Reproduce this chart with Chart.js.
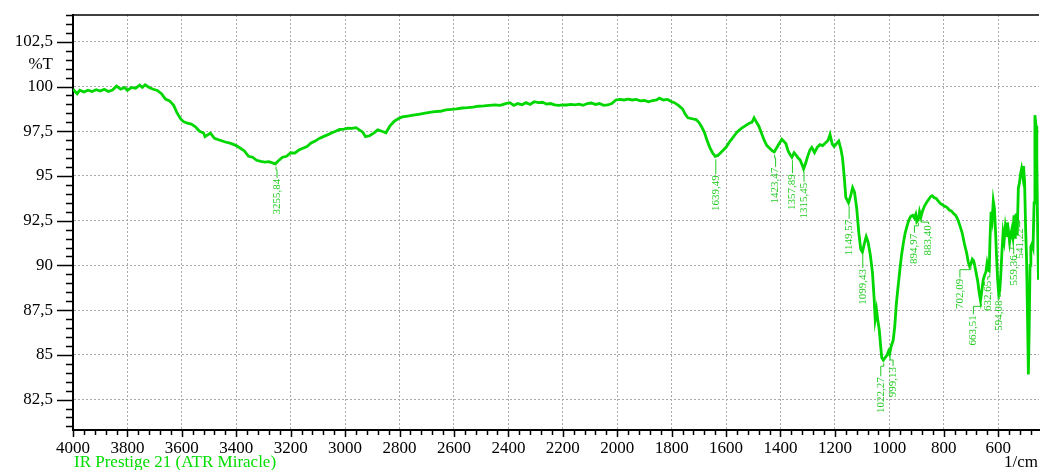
<!DOCTYPE html>
<html>
<head>
<meta charset="utf-8">
<script src="https://cdn.jsdelivr.net/npm/chart.js@4.4.0/dist/chart.umd.min.js"></script>
<style>
  html, body { margin: 0; padding: 0; background: #fff; }
  canvas { display: block; }
</style>
</head>
<body>
<canvas id="irChart" width="1040" height="470"></canvas>
<script>
// spectrum (1/cm, %T)
var wavenumbers = [
    4000, 3985, 3975, 3960, 3945, 3930, 3915, 3900, 3885, 3870, 3855, 3840, 3825, 3810, 3800,
    3785, 3770, 3755, 3745, 3735, 3720, 3705, 3690, 3675, 3660, 3645, 3630, 3620, 3605, 3595,
    3580, 3565, 3550, 3535, 3520, 3515, 3495, 3480, 3460, 3440, 3420, 3400, 3385, 3370, 3355,
    3340, 3325, 3310, 3295, 3280, 3265, 3256, 3245, 3230, 3215, 3200, 3185, 3170, 3155, 3140,
    3125, 3110, 3095, 3080, 3065, 3050, 3035, 3020, 3005, 2990, 2975, 2960, 2945, 2935, 2925,
    2910, 2895, 2880, 2865, 2850, 2835, 2820, 2805, 2790, 2770, 2750, 2730, 2710, 2690, 2670,
    2650, 2630, 2610, 2590, 2570, 2550, 2530, 2510, 2490, 2470, 2450, 2430, 2410, 2395, 2380,
    2365, 2350, 2335, 2320, 2305, 2290, 2275, 2260, 2245, 2230, 2215, 2200, 2185, 2170, 2155,
    2140, 2125, 2110, 2095, 2080, 2065, 2050, 2035, 2020, 2005, 1990, 1975, 1960, 1945, 1930,
    1915, 1900, 1885, 1870, 1855, 1845, 1830, 1815, 1800, 1790, 1775, 1760, 1750, 1740, 1725,
    1710, 1700, 1690, 1680, 1670, 1660, 1650, 1640, 1630, 1620, 1610, 1600, 1590, 1580, 1570,
    1560, 1545, 1530, 1515, 1505, 1497, 1488, 1480, 1470, 1460, 1450, 1440, 1430, 1423, 1415,
    1405, 1395, 1388, 1380, 1372, 1365, 1358, 1350, 1342, 1335, 1328, 1320, 1315, 1308, 1300,
    1292, 1285, 1275, 1265, 1255, 1245, 1235, 1225, 1218, 1210, 1203, 1195, 1186, 1178, 1172,
    1166, 1160, 1150, 1142, 1135, 1128, 1120, 1112, 1105, 1099, 1092, 1085, 1078, 1070, 1062,
    1056, 1052, 1047, 1043, 1037, 1032, 1028, 1022, 1015, 1008, 1003, 999, 993, 986, 980,
    974, 968, 961, 955, 948, 942, 935, 928, 921, 914, 908, 903, 899, 894, 889,
    884, 878, 870, 862, 855, 848, 842, 836, 828, 820, 812, 805, 796, 788, 780,
    772, 764, 756, 748, 740, 732, 724, 716, 710, 705, 700, 695, 690, 685, 680,
    675, 670, 665, 660, 655, 650, 645, 641, 637, 633, 630, 626, 622, 618, 614,
    610, 606, 602, 598, 594, 590, 586, 582, 578, 574, 570, 566, 562, 558, 554,
    550, 546, 542, 538, 534, 530, 526, 522, 518, 514, 510, 507, 503, 499, 496,
    492, 489, 486, 483, 480, 476, 472, 468, 465, 461, 458, 455, 452
];
var transmittance = [
    99.85, 99.6, 99.8, 99.7, 99.8, 99.72, 99.82, 99.75, 99.85, 99.72, 99.8, 100.02, 99.85, 99.95, 99.78,
    99.95, 99.9, 100.08, 99.95, 100.1, 99.95, 99.85, 99.78, 99.6, 99.3, 99.2, 98.95, 98.6, 98.2, 98.05,
    97.95, 97.9, 97.75, 97.5, 97.4, 97.2, 97.4, 97.1, 97.0, 96.9, 96.82, 96.7, 96.55, 96.4, 96.1,
    96.05, 95.88, 95.82, 95.78, 95.8, 95.72, 95.68, 95.85, 96.05, 96.1, 96.3, 96.28, 96.45, 96.55, 96.65,
    96.85, 96.95, 97.1, 97.2, 97.3, 97.4, 97.5, 97.6, 97.62, 97.68, 97.66, 97.7, 97.55, 97.45, 97.2,
    97.25, 97.4, 97.58, 97.5, 97.42, 97.8, 98.05, 98.2, 98.3, 98.35, 98.4, 98.45, 98.5, 98.55, 98.6,
    98.62, 98.7, 98.72, 98.75, 98.8, 98.82, 98.85, 98.9, 98.92, 98.95, 98.98, 98.95, 99.05, 99.1, 98.95,
    99.05, 98.98, 99.1, 99.0, 99.15, 99.1, 99.12, 99.02, 99.05, 98.98, 98.95, 98.98, 98.97, 99.0, 98.98,
    99.02, 98.95, 99.05, 99.08, 99.0, 99.05, 98.95, 98.97, 99.05, 99.25, 99.28, 99.25, 99.3, 99.25, 99.28,
    99.2, 99.22, 99.15, 99.22, 99.25, 99.35, 99.25, 99.28, 99.15, 99.1, 98.95, 98.75, 98.45, 98.25, 98.2,
    98.15, 98.0, 97.75, 97.45, 97.0, 96.6, 96.3, 96.1, 96.15, 96.3, 96.45, 96.6, 96.85, 97.05, 97.25,
    97.45, 97.65, 97.8, 97.95, 98.0, 98.25, 98.0, 97.8, 97.4, 97.0, 96.7, 96.55, 96.4, 96.35, 96.55,
    96.8, 97.05, 96.95, 96.8, 96.4, 96.2, 96.05, 96.3, 96.15, 96.0, 95.9, 95.6, 95.4, 95.7, 96.1,
    96.45, 96.6, 96.3, 96.6, 96.75, 96.7, 96.85, 97.0, 97.32, 96.8, 96.65, 96.8, 96.95, 96.5, 96.0,
    95.0, 93.8, 93.5, 93.9, 94.35, 94.1, 93.2, 91.8, 90.9, 90.75, 91.2, 91.6, 91.3, 90.6, 89.6,
    88.2, 87.0, 87.5, 87.0, 86.4, 85.5, 84.85, 84.7, 84.85, 85.0, 85.2, 85.05, 85.5, 85.8, 86.6,
    87.9, 88.8, 89.8, 90.6, 91.3, 91.8, 92.2, 92.55, 92.75, 92.8, 92.65, 92.85, 92.45, 92.55, 93.0,
    92.7, 93.05, 93.35, 93.55, 93.7, 93.85, 93.9, 93.8, 93.75, 93.6, 93.45, 93.4, 93.3, 93.25, 93.1,
    93.05, 92.9, 92.8, 92.55, 92.2, 91.8, 91.2, 90.7, 90.2, 89.95, 90.1, 90.35, 90.25, 89.9, 89.5,
    89.1, 88.5, 88.05, 88.6, 89.2, 89.45, 89.65, 90.1, 89.75, 89.7, 91.5, 93.0, 92.6, 93.6, 93.2,
    92.0, 90.5, 89.2, 88.4, 88.6, 89.6, 90.8, 91.8, 91.4, 92.1, 91.6, 92.4, 91.9, 91.3, 91.7,
    92.0, 91.6, 92.8, 91.5, 92.9, 91.7, 94.3, 94.6, 95.1, 95.4, 95.0, 95.55, 94.7, 92.0, 90.5,
    87.0, 83.9, 86.5, 90.0, 91.05, 91.2, 91.0, 93.5, 98.4, 97.8, 96.0, 92.0, 89.2
];

// axis ticks
var xTicks = [4000, 3800, 3600, 3400, 3200, 3000, 2800, 2600, 2400, 2200, 2000, 1800, 1600, 1400, 1200, 1000, 800, 600];
var yTicks = [82.5, 85, 87.5, 90, 92.5, 95, 97.5, 100, 102.5];

// peak picks
var peakWavenumbers = [3255.84, 1639.49, 1423.47, 1357.89, 1315.45, 1149.57, 1099.43, 1022.27, 999.13,
    894.97, 883.40, 702.09, 663.51, 632.65, 594.08, 559.36, 541.22];
var peakLabels = ['3255,84', '1639,49', '1423,47', '1357,89', '1315,45', '1149,57', '1099,43', '1022,27', '999,13',
    '894,97', '883,40', '702,09', '663,51', '632,65', '594,08', '559,36', '541,22'];

// label placement (pixels, relative to the picked point)
var labelShiftX = [1, 0, 1, 0, 0, 0, 0, -3, 3, -4, 7, -11, -8, -2, -1, 4, 5];
var labelDrop = [15, 19, 16, 17, 14, 17, 17, 17, 13, 14, 8, 15, 15, 10, 10, 13, 13];

var green = '#00d600';
var labelGreen = '#22cc22';
var serif = '"Liberation Serif", "Times New Roman", serif';

function nearestIndex(w) {
    var best = 0;
    for (var i = 1; i < wavenumbers.length; i++) {
        if (Math.abs(wavenumbers[i] - w) < Math.abs(wavenumbers[best] - w)) best = i;
    }
    return best;
}

var extras = {
    id: 'extras',
    afterDraw: function (chart) {
        var c = chart.ctx;
        var xs = chart.scales.x;
        var ys = chart.scales.y;
        var area = chart.chartArea;
        c.save();

        // top frame line
        c.strokeStyle = '#000';
        c.lineWidth = 1.3;
        c.beginPath();
        c.moveTo(area.left, area.top);
        c.lineTo(area.right, area.top);
        c.stroke();

        // tick marks on the y axis
        c.lineWidth = 1.5;
        for (var v = 81; v <= 104.01; v += 0.5) {
            var py = Math.round(ys.getPixelForValue(v)) + 0.5;
            var major = Math.abs(v / 2.5 - Math.round(v / 2.5)) < 1e-6;
            c.beginPath();
            c.moveTo(area.left - (major ? 16 : 7), py);
            c.lineTo(area.left, py);
            c.stroke();
        }
        // tick marks on the x axis
        for (var w = 4000; w >= 450; w -= 40) {
            var px = Math.round(xs.getPixelForValue(w)) + 0.5;
            var maj = w % 200 === 0;
            c.beginPath();
            c.moveTo(px, area.bottom);
            c.lineTo(px, area.bottom + (maj ? 7 : 5));
            c.stroke();
        }

        // axis captions
        c.fillStyle = '#000';
        c.font = '17px ' + serif;
        c.textAlign = 'right';
        c.textBaseline = 'middle';
        c.fillText('%T', 53, ys.getPixelForValue(101.25));
        c.textBaseline = 'alphabetic';
        c.fillText('1/cm', 1038, 467);
        c.textAlign = 'left';
        c.fillStyle = '#00dd00';
        c.fillText('IR Prestige 21 (ATR Miracle)', 74, 467);

        // peak labels
        c.strokeStyle = labelGreen;
        c.fillStyle = labelGreen;
        c.lineWidth = 1;
        c.font = '11px ' + serif;
        for (var k = 0; k < peakWavenumbers.length; k++) {
            var idx = nearestIndex(peakWavenumbers[k]);
            var x0 = xs.getPixelForValue(peakWavenumbers[k]);
            var y0 = ys.getPixelForValue(transmittance[idx]);
            var cx = x0 + labelShiftX[k];
            var top = y0 + labelDrop[k];
            var bend = y0 + Math.min(6, labelDrop[k] - 3);
            c.beginPath();
            c.moveTo(x0 + 0.5, y0 + 3);
            c.lineTo(x0 + 0.5, bend);
            c.lineTo(cx + 0.5, bend);
            c.lineTo(cx + 0.5, top - 1);
            c.stroke();
            c.save();
            c.translate(cx + 0.5, top);
            c.rotate(-Math.PI / 2);
            c.textAlign = 'right';
            c.textBaseline = 'middle';
            c.fillText(peakLabels[k], 0, 0);
            c.restore();
        }
        c.restore();
    }
};

var ctx = document.getElementById('irChart').getContext('2d');
var irChart = new Chart(ctx, {
    type: 'line',
    data: {
        datasets: [{
            data: wavenumbers.map(function (w, i) { return { x: w, y: transmittance[i] }; }),
            borderColor: green,
            borderWidth: 2.8,
            pointRadius: 0,
            tension: 0,
            fill: false
        }]
    },
    options: {
        responsive: false,
        animation: false,
        layout: { padding: { top: 15, right: 1, left: 0, bottom: 0 } },
        plugins: {
            legend: { display: false },
            tooltip: { enabled: false }
        },
        scales: {
            x: {
                type: 'linear',
                reverse: true,
                min: 450,
                max: 4000,
                afterBuildTicks: function (scale) {
                    scale.ticks = xTicks.map(function (v) { return { value: v }; });
                },
                afterFit: function (scale) {
                    scale.height = 40;
                    scale.paddingLeft = 0;
                    scale.paddingRight = 0;
                },
                grid: { color: '#a8a8a8', lineWidth: 1, drawTicks: false },
                border: { display: true, color: '#000', width: 2, dash: [2, 2] },
                ticks: {
                    color: '#000',
                    font: { family: serif, size: 17 },
                    padding: 8,
                    maxRotation: 0,
                    autoSkip: false,
                    callback: function (v) { return String(v); }
                }
            },
            y: {
                min: 80.8,
                max: 104.0,
                afterBuildTicks: function (scale) {
                    scale.ticks = yTicks.map(function (v) { return { value: v }; });
                },
                afterFit: function (scale) {
                    scale.width = 73;
                    scale.paddingTop = 0;
                    scale.paddingBottom = 0;
                },
                grid: { color: '#a8a8a8', lineWidth: 1, drawTicks: false },
                border: { display: true, color: '#000', width: 2, dash: [2, 2] },
                ticks: {
                    color: '#000',
                    font: { family: serif, size: 17 },
                    padding: 20,
                    autoSkip: false,
                    callback: function (v) { return String(v).replace('.', ','); }
                }
            }
        }
    },
    plugins: [extras]
});
</script>
</body>
</html>
